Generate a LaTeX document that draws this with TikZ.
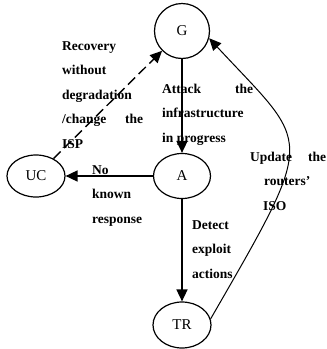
\documentclass[tikz,border=0pt]{standalone}
\usepackage{fontspec}
\setmainfont{Liberation Serif}
\usetikzlibrary{positioning}
\usetikzlibrary{shapes.geometric, arrows.meta}

\tikzset{
  phase/.style={ellipse, draw, line width=1.2pt, inner sep=0pt,
    font=\fontsize{15}{18}\selectfont},
  note/.style={anchor=base west, align=left, inner sep=0pt,
    font=\bfseries\fontsize{13.5}{24.5}\selectfont},
  flow/.style={-{Triangle[length=12pt,width=11pt]}, line width=1.6pt},
}
% stretch the words of one line over a given width
\newcommand{\spreadline}[2]{\makebox[#1][s]{#2}}

\begin{document}
\begin{tikzpicture}[x=1pt,y=-1pt]
\useasboundingbox (0,0) rectangle (327,349);

% States
\node[phase, circle, minimum size=55pt] (G) at (182,31) {G};
\node[phase, minimum width=57pt, minimum height=45pt] (A) at (182,176) {A};
\node[phase, minimum width=58pt, minimum height=42pt] (UC) at (36,176) {UC};
\node[phase, minimum width=58pt, minimum height=46pt] (TR) at (182,325) {TR};

% Transitions
\draw[flow] (G) -- (A);
\draw[flow] (A) -- (UC);
\draw[flow] (A) -- (TR);
\draw[flow, dashed, dash pattern=on 10pt off 5pt, line width=1.4pt] (UC) -- (G);
\draw[-{Triangle[length=12pt,width=11pt]}, line width=1pt]
  (TR.12) .. controls (319,131) and (311,148) .. (G.-15);

% Labels (placed at the baseline of their last line)
\node[note] (recovery) at (62,148) {Recovery\\without\\degradation\\\spreadline{81pt}{/change the}\\ISP};
\node[note] (attack) at (162,142) {\spreadline{91pt}{Attack the}\\infrastructure\\in progress};
\node[note] (noresp) at (92,223) {No\\known\\response};
\node[note] (detect) at (192,278) {Detect\\exploit\\actions};
\node[note] (update) at (250,210) {\spreadline{76pt}{Update the}\\\hspace*{14pt}routers'\\\hspace*{13pt}ISO};

\end{tikzpicture}
\end{document}
